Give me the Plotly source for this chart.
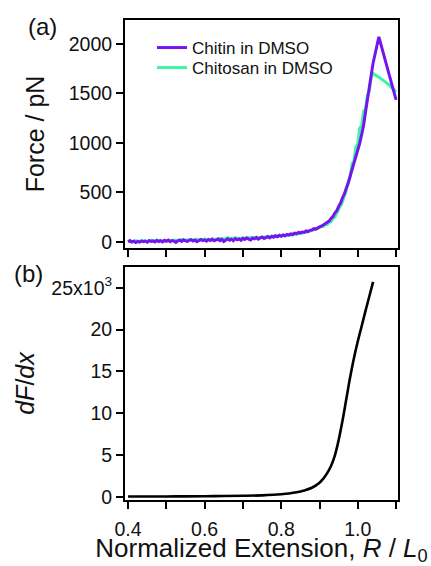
import plotly.graph_objects as go
from plotly.subplots import make_subplots

# ---------------- data ----------------
chitin_x = [
    0.400, 0.405, 0.410, 0.415, 0.420, 0.425, 0.430, 0.435, 0.440, 0.445,
    0.450, 0.455, 0.460, 0.465, 0.470, 0.475, 0.480, 0.485, 0.490, 0.495,
    0.500, 0.505, 0.510, 0.515, 0.520, 0.525, 0.530, 0.535, 0.540, 0.545,
    0.550, 0.555, 0.560, 0.565, 0.570, 0.575, 0.580, 0.585, 0.590, 0.595,
    0.600, 0.605, 0.610, 0.615, 0.620, 0.625, 0.630, 0.635, 0.640, 0.645,
    0.650, 0.655, 0.660, 0.665, 0.670, 0.675, 0.680, 0.685, 0.690, 0.695,
    0.700, 0.705, 0.710, 0.715, 0.720, 0.725, 0.730, 0.735, 0.740, 0.745,
    0.750, 0.755, 0.760, 0.765, 0.770, 0.775, 0.780, 0.785, 0.790, 0.795,
    0.800, 0.805, 0.810, 0.815, 0.820, 0.825, 0.830, 0.835, 0.840, 0.845,
    0.850, 0.855, 0.860, 0.865, 0.870, 0.875, 0.880, 0.885, 0.890, 0.895,
    0.900, 0.905, 0.910, 0.915, 0.920, 0.925, 0.930, 0.935, 0.940, 0.945,
    0.950, 0.955, 0.960, 0.965, 0.970, 0.975, 0.980, 0.985, 0.990, 0.995,
    1.000, 1.005, 1.010, 1.015, 1.020, 1.025, 1.030, 1.035, 1.040, 1.045,
    1.050, 1.055, 1.100,
]
chitin_force = [
    2, 14, 1, 9, -4, 7, 0, 12, 3, 10,
    -2, 14, 6, 11, 1, 17, 5, 13, 2, 18,
    8, 20, 4, 14, 9, -3, 12, 19, 7, 22,
    13, 6, 18, 24, 10, 20, 3, 17, 25, 14,
    22, 9, 26, 16, 28, 12, 21, 30, 15, 27,
    6, 24, 33, 19, 29, 14, 35, 23, 31, 18,
    37, 27, 42, 30, 21, 40, 33, 46, 30, 41,
    50, 36, 47, 55, 42, 58, 49, 63, 54, 68,
    59, 72, 64, 77, 70, 82, 76, 90, 84, 97,
    92, 101, 98, 112, 106, 118, 121, 135, 131, 145,
    152, 160, 172, 181, 196, 212, 238, 258, 292, 316,
    360, 394, 446, 486, 546, 594, 664, 726, 804, 858,
    930, 996, 1084, 1174, 1306, 1420, 1566, 1684, 1806, 1900,
    2000, 2070, 1434,
]

chitosan_x = [
    0.40, 0.41, 0.42, 0.43, 0.44, 0.45, 0.46, 0.47, 0.48, 0.49,
    0.50, 0.51, 0.52, 0.53, 0.54, 0.55, 0.56, 0.57, 0.58, 0.59,
    0.60, 0.61, 0.62, 0.63, 0.64, 0.65, 0.66, 0.67, 0.68, 0.69,
    0.70, 0.71, 0.72, 0.73, 0.74, 0.75, 0.76, 0.77, 0.78, 0.79,
    0.80, 0.81, 0.82, 0.83, 0.84, 0.85, 0.86, 0.87, 0.88, 0.89,
    0.900, 0.905, 0.910, 0.915, 0.920, 0.925, 0.930, 0.935, 0.940, 0.945,
    0.950, 0.955, 0.960, 0.965, 0.970, 0.975, 0.980, 0.985, 0.990, 0.995,
    1.000, 1.005, 1.010, 1.015, 1.020, 1.025, 1.030, 1.035, 1.040,
    1.060, 1.080, 1.100,
]
chitosan_force = [
    8, 3, 12, 6, 14, 9, 17, 11, 19, 8,
    16, 13, 21, 15, 24, 18, 26, 19, 28, 22,
    30, 24, 33, 27, 38, 30, 42, 35, 44, 37,
    41, 36, 45, 40, 48, 45, 54, 50, 60, 58,
    66, 64, 72, 72, 82, 86, 98, 104, 118, 128,
    146, 160, 158, 178, 176, 200, 205, 238, 250, 292,
    318, 372, 405, 470, 520, 610, 660, 790, 820, 960,
    990, 1150, 1170, 1320, 1340, 1480, 1520, 1660, 1700,
    1650, 1590, 1515,
]

deriv_x = [
    0.40, 0.45, 0.50, 0.55, 0.60, 0.65, 0.70, 0.75, 0.78, 0.80,
    0.82, 0.84, 0.86, 0.88, 0.90, 0.91, 0.92, 0.93, 0.94, 0.95,
    0.96, 0.97, 0.98, 0.99, 1.00, 1.01, 1.02, 1.03, 1.04,
]
deriv_y = [
    50, 55, 65, 75, 90, 110, 140, 190, 260, 330,
    420, 560, 780, 1100, 1700, 2200, 2850, 3700, 4950, 6800,
    9100, 11700, 14300, 16600, 18600, 20400, 22200, 23950, 25700,
]

x_tickvals = [0.4, 0.5, 0.6, 0.7, 0.8, 0.9, 1.0, 1.1]
x_ticktext = ["0.4", "", "0.6", "", "0.8", "", "1.0", ""]
force_ticks = [0, 500, 1000, 1500, 2000]
deriv_tickvals = [0, 5000, 10000, 15000, 20000, 25000]
deriv_ticktext = ["0", "5", "10", "15", "20", "25x10<sup>3</sup>"]

# ---------------- figure ----------------
FONT = "Liberation Sans, Arial, sans-serif"
W, H = 431, 566
ML, MR, MT, MB = 125, 33, 20, 66
PH = H - MT - MB
PW = W - ML - MR

fig = make_subplots(rows=2, cols=1, shared_xaxes=False)

fig.add_trace(go.Scatter(x=chitosan_x, y=chitosan_force, mode="lines",
                         name="Chitosan in DMSO", legend="legend2",
                         line=dict(color="#3DF5A3", width=3)), row=1, col=1)
fig.add_trace(go.Scatter(x=chitin_x, y=chitin_force, mode="lines",
                         name="Chitin in DMSO", legend="legend",
                         line=dict(color="#7614EE", width=3)), row=1, col=1)
fig.add_trace(go.Scatter(x=deriv_x, y=deriv_y, mode="lines",
                         line=dict(color="black", width=2.6, shape="spline"),
                         showlegend=False), row=2, col=1)

axis_common = dict(showline=True, linecolor="black", linewidth=2, mirror=True,
                   ticks="outside", ticklen=7, tickwidth=2, tickcolor="black",
                   showgrid=False, zeroline=False, automargin=False,
                   tickfont=dict(family=FONT, size=19.5, color="#111"))

top_dom = [(H - MB - 248) / PH, 1.0]
bot_dom = [0.0, (H - MB - 267) / PH]

legend_common = dict(xanchor="left", yanchor="middle", bgcolor="rgba(0,0,0,0)",
                     font=dict(family=FONT, size=17, color="#111"),
                     itemwidth=30)

fig.update_layout(
    width=W, height=H,
    margin=dict(l=ML, r=MR, t=MT, b=MB, autoexpand=False),
    paper_bgcolor="white", plot_bgcolor="white",
    font=dict(family=FONT, color="#111"),
    xaxis=dict(axis_common, range=[0.392, 1.105], domain=[0, 1],
               tickvals=x_tickvals, showticklabels=False, anchor="y"),
    yaxis=dict(axis_common, range=[-60, 2240], domain=top_dom,
               tickvals=force_ticks, anchor="x",
               title=dict(text="Force / pN", font=dict(family=FONT, size=25),
                          standoff=17)),
    xaxis2=dict(axis_common, range=[0.392, 1.105], domain=[0, 1],
                tickvals=x_tickvals, ticktext=x_ticktext, anchor="y2",
                ticklabelstandoff=4,
                title=dict(text="Normalized Extension, <i>R</i> / <i>L</i><sub>0</sub>",
                           font=dict(family=FONT, size=26), standoff=3)),
    yaxis2=dict(axis_common, range=[-360, 27480], domain=bot_dom,
                tickvals=deriv_tickvals, ticktext=deriv_ticktext, anchor="x2",
                title=dict(text="<i>dF</i>/<i>dx</i>", font=dict(family=FONT, size=25),
                           standoff=10)),
    legend=dict(legend_common, x=0.099, y=(H - MB - 48) / PH),
    legend2=dict(legend_common, x=0.099, y=(H - MB - 68) / PH),
    showlegend=True,
)

fig.add_annotation(text="(a)", xref="paper", yref="paper",
                   x=(42 - ML) / PW, y=(H - MB - 27) / PH,
                   xanchor="center", yanchor="middle", showarrow=False,
                   font=dict(family=FONT, size=24, color="#111"))
fig.add_annotation(text="(b)", xref="paper", yref="paper",
                   x=(28 - ML) / PW, y=(H - MB - 273) / PH,
                   xanchor="center", yanchor="middle", showarrow=False,
                   font=dict(family=FONT, size=24, color="#111"))

fig.write_html("out.html", config={"displayModeBar": False},
               post_script="document.body.style.margin='0';document.body.style.overflow='hidden';")
